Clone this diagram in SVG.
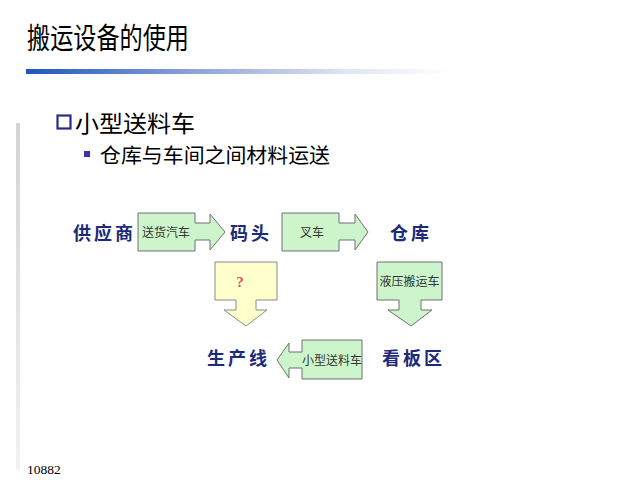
<svg xmlns="http://www.w3.org/2000/svg" width="640" height="480" viewBox="0 0 640 480">
<defs>
<linearGradient id="bar" x1="0" y1="0" x2="1" y2="0">
<stop offset="0" stop-color="#1f56c0"/>
<stop offset="0.4" stop-color="#8ea4d8"/>
<stop offset="0.75" stop-color="#dfe4f3"/>
<stop offset="1" stop-color="#ffffff"/>
</linearGradient>
<linearGradient id="vbar" x1="0" y1="0" x2="0" y2="1">
<stop offset="0" stop-color="#d4d4d4"/>
<stop offset="1" stop-color="#f2f2f2"/>
</linearGradient>
<style>
.cjk{font-family:"Noto Sans CJK SC","Liberation Sans",sans-serif;}
.node{font-family:"Noto Sans CJK SC",sans-serif;font-weight:bold;font-size:18px;fill:#1c2a7a;letter-spacing:3px;}
.lab{font-family:"Noto Sans CJK SC",sans-serif;font-size:12px;fill:#333;}
.g{fill:#ccf5cc;stroke:#707070;stroke-width:1;}
.y{fill:#ffffcc;stroke:#8a8a8a;stroke-width:1;}
</style>
</defs>
<rect width="640" height="480" fill="#fff"/>
<text x="27" y="49" class="cjk" font-size="29" fill="#000" textLength="162" lengthAdjust="spacingAndGlyphs">搬运设备的使用</text>
<rect x="26" y="69" width="424" height="5" fill="url(#bar)"/>
<rect x="16" y="123" width="4" height="347" fill="url(#vbar)"/>
<rect x="57.5" y="115.5" width="13" height="13" fill="#fff" stroke="#2b2b8c" stroke-width="2.2"/>
<text x="75" y="132" class="cjk" font-size="23" fill="#000" textLength="120" lengthAdjust="spacingAndGlyphs">小型送料车</text>
<rect x="84" y="151" width="6" height="6" fill="#3535a5"/>
<text x="100" y="163" class="cjk" font-size="20" fill="#000" textLength="230" lengthAdjust="spacingAndGlyphs">仓库与车间之间材料运送</text>
<g id="connectors">
<g id="a1"><path class="g" d="M138,213 H195 V223 H210 V214 L225,232 L210,250 V240 H195 V251 H138 Z"/><text x="142" y="237" class="lab">送货汽车</text></g>
<g id="a2"><path class="g" d="M282,213 H339 V223 H355 V214 L368,232 L355,250 V240 H339 V251 H282 Z"/><text x="300" y="237" class="lab">叉车</text></g>
<g id="a3"><path class="y" d="M215,262 H277 V300 H256 V310 H267 L246,326 L224,310 H236 V300 H215 Z"/><text x="240" y="287" font-family="Liberation Serif,serif" font-size="15" font-weight="bold" fill="#e05050" text-anchor="middle">?</text></g>
<g id="a4"><path class="g" d="M377,262 H442 V300 H421 V310 H432 L411,326 L388,310 H399 V300 H377 Z"/><text x="409.5" y="286" class="lab" font-size="12.5" text-anchor="middle">液压搬运车</text></g>
<g id="a5"><path class="g" d="M362,340 V379 H302 V368 H289 V378 L277,360 L289,343 V352 H302 V340 Z"/><text x="332" y="365" class="lab" text-anchor="middle">小型送料车</text></g>
</g>
<g id="supplier"><text x="73" y="240" class="node">供应商</text></g>
<g id="dock"><text x="230" y="240" class="node">码头</text></g>
<g id="warehouse"><text x="390" y="240" class="node">仓库</text></g>
<g id="line"><text x="207" y="365" class="node">生产线</text></g>
<g id="kanban"><text x="382" y="365" class="node">看板区</text></g>
<text x="27" y="474" font-family="Liberation Serif,serif" font-size="13.5" fill="#000">10882</text>
</svg>
